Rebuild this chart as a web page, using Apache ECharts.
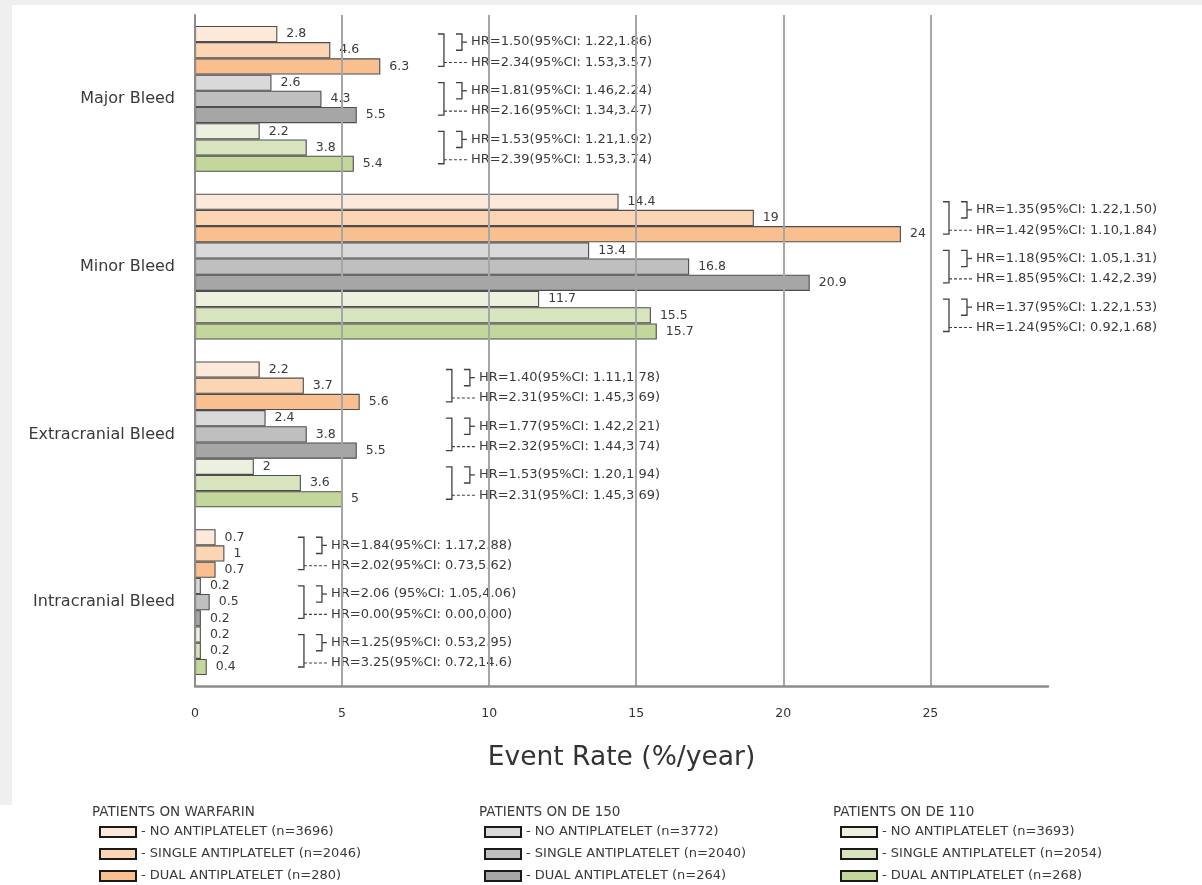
<!DOCTYPE html>
<html>
<head>
<meta charset="utf-8">
<title>Bleeding event rates by antiplatelet use</title>
<script src="https://cdn.jsdelivr.net/npm/echarts@6/dist/echarts.min.js"></script>
<style>
  html, body { margin: 0; padding: 0; background: #ffffff; }
  #chart { width: 1202px; height: 885px; }
</style>
</head>
<body>
<div id="chart"></div>
<script>
// ---- data ----
const categories = ['Major Bleed', 'Minor Bleed', 'Extracranial Bleed', 'Intracranial Bleed'];

// event rates (%/year) per category, in the order of `categories`
const warfarinNone   = [2.8, 14.4, 2.2, 0.7];
const warfarinSingle = [4.6, 19,   3.7, 1];
const warfarinDual   = [6.3, 24,   5.6, 0.7];
const de150None      = [2.6, 13.4, 2.4, 0.2];
const de150Single    = [4.3, 16.8, 3.8, 0.5];
const de150Dual      = [5.5, 20.9, 5.5, 0.2];
const de110None      = [2.2, 11.7, 2,   0.2];
const de110Single    = [3.8, 15.5, 3.6, 0.2];
const de110Dual      = [5.4, 15.7, 5,   0.4];

const legendTitles = ['PATIENTS ON WARFARIN', 'PATIENTS ON DE 150', 'PATIENTS ON DE 110'];
const warfarinNames = ['NO ANTIPLATELET (n=3696)', 'SINGLE ANTIPLATELET (n=2046)', 'DUAL ANTIPLATELET (n=280)'];
const de150Names    = ['NO ANTIPLATELET (n=3772)', 'SINGLE ANTIPLATELET (n=2040)', 'DUAL ANTIPLATELET (n=264)'];
const de110Names    = ['NO ANTIPLATELET (n=3693)', 'SINGLE ANTIPLATELET (n=2054)', 'DUAL ANTIPLATELET (n=268)'];

// hazard ratios: single vs none, dual vs none; per category, groups = warfarin, DE 150, DE 110
const hrSingle = [
  ['HR=1.50(95%CI: 1.22,1.86)', 'HR=1.81(95%CI: 1.46,2.24)', 'HR=1.53(95%CI: 1.21,1.92)'],
  ['HR=1.35(95%CI: 1.22,1.50)', 'HR=1.18(95%CI: 1.05,1.31)', 'HR=1.37(95%CI: 1.22,1.53)'],
  ['HR=1.40(95%CI: 1.11,1.78)', 'HR=1.77(95%CI: 1.42,2.21)', 'HR=1.53(95%CI: 1.20,1.94)'],
  ['HR=1.84(95%CI: 1.17,2.88)', 'HR=2.06 (95%CI: 1.05,4.06)', 'HR=1.25(95%CI: 0.53,2.95)']
];
const hrDual = [
  ['HR=2.34(95%CI: 1.53,3.57)', 'HR=2.16(95%CI: 1.34,3.47)', 'HR=2.39(95%CI: 1.53,3.74)'],
  ['HR=1.42(95%CI: 1.10,1.84)', 'HR=1.85(95%CI: 1.42,2.39)', 'HR=1.24(95%CI: 0.92,1.68)'],
  ['HR=2.31(95%CI: 1.45,3.69)', 'HR=2.32(95%CI: 1.44,3.74)', 'HR=2.31(95%CI: 1.45,3.69)'],
  ['HR=2.02(95%CI: 0.73,5.62)', 'HR=0.00(95%CI: 0.00,0.00)', 'HR=3.25(95%CI: 0.72,14.6)']
];

// ---- layout / style ----
const FONT = '"DejaVu Sans", sans-serif';
const TEXT = '#3a3a3a';
const CAT_GAP = 0.13;        // barCategoryGap as a fraction
const N_BARS = 9;
// x (in axis units) where each category's HR bracket column starts
const hrBracketX = [8.26, 25.43, 8.53, 3.5];

const fills = {
  warfarin: ['#FDE9D9', '#FCD5B4', '#FABF8F'],
  de150:    ['#D9D9D9', '#BFBFBF', '#A6A6A6'],
  de110:    ['#EBF1DE', '#D7E4BD', '#C4D79B']
};

function barSeries(name, data, color) {
  return {
    type: 'bar',
    name: name,
    data: data,
    barGap: '0%',
    barCategoryGap: (CAT_GAP * 100) + '%',
    itemStyle: { color: color, borderColor: '#4d4d4d', borderWidth: 1.1 },
    label: {
      show: true, position: 'right', distance: 9,
      color: TEXT, fontSize: 12.5, fontFamily: FONT
    },
    z: 2
  };
}

const barList = [
  barSeries(warfarinNames[0], warfarinNone,   fills.warfarin[0]),
  barSeries(warfarinNames[1], warfarinSingle, fills.warfarin[1]),
  barSeries(warfarinNames[2], warfarinDual,   fills.warfarin[2]),
  barSeries(de150Names[0], de150None,   fills.de150[0]),
  barSeries(de150Names[1], de150Single, fills.de150[1]),
  barSeries(de150Names[2], de150Dual,   fills.de150[2]),
  barSeries(de110Names[0], de110None,   fills.de110[0]),
  barSeries(de110Names[1], de110Single, fills.de110[1]),
  barSeries(de110Names[2], de110Dual,   fills.de110[2])
];

// one annotation item per (category, treatment group)
const hrItems = [];
categories.forEach(function (c, ci) {
  for (let g = 0; g < 3; g++) hrItems.push([hrBracketX[ci], ci, g]);
});

function renderHR(params, api) {
  const ci = api.value(1);
  const g = api.value(2);
  const p = api.coord([api.value(0), ci]);
  const band = api.size([0, 1])[1];
  const bw = band * (1 - CAT_GAP) / N_BARS;
  const top = p[1] - bw * N_BARS / 2;
  const yc = function (k) { return top + (g * 3 + k + 0.5) * bw; };
  const y1 = yc(0), y2 = yc(1), y3 = yc(2);
  const bx = p[0];
  const ln = { stroke: '#404040', lineWidth: 1.3, fill: null };
  const yL1 = (y1 + y2) / 2;
  const yL2 = y3 - 4;
  return {
    type: 'group',
    children: [
      { type: 'polyline', shape: { points: [[bx, y1], [bx + 6, y1], [bx + 6, y3], [bx, y3]] }, style: ln },
      { type: 'polyline', shape: { points: [[bx + 18, y1], [bx + 24, y1], [bx + 24, y2], [bx + 18, y2]] }, style: ln },
      { type: 'line', shape: { x1: bx + 24, y1: yL1, x2: bx + 29, y2: yL1 }, style: ln },
      { type: 'line', shape: { x1: bx + 6, y1: yL2, x2: bx + 31, y2: yL2 },
        style: { stroke: '#404040', lineWidth: 1.1, lineDash: [3, 2] } },
      { type: 'text', style: { text: hrSingle[ci][g], x: bx + 33, y: yL1, fill: TEXT,
          fontSize: 13, fontFamily: FONT, verticalAlign: 'middle', align: 'left' } },
      { type: 'text', style: { text: hrDual[ci][g], x: bx + 33, y: yL2, fill: TEXT,
          fontSize: 13, fontFamily: FONT, verticalAlign: 'middle', align: 'left' } }
    ]
  };
}

function legendBlock(names, left) {
  return {
    data: names,
    orient: 'vertical',
    left: left,
    top: 824,
    itemWidth: 36,
    itemHeight: 10,
    itemGap: 6,
    padding: 0,
    icon: 'rect',
    selectedMode: false,
    formatter: '- {name}',
    itemStyle: { borderColor: '#1a1a1a', borderWidth: 2 },
    textStyle: { color: TEXT, fontSize: 13, fontFamily: FONT, lineHeight: 16 }
  };
}

function legendTitle(text, left) {
  return {
    text: text, left: left, top: 805, padding: 0,
    textStyle: { color: TEXT, fontSize: 13.5, fontWeight: 'normal', fontFamily: FONT }
  };
}

const chart = echarts.init(document.getElementById('chart'), null, { renderer: 'canvas' });

chart.setOption({
  backgroundColor: '#ffffff',
  animation: false,
  title: [
    legendTitle(legendTitles[0], 92),
    legendTitle(legendTitles[1], 479),
    legendTitle(legendTitles[2], 833)
  ],
  legend: [
    legendBlock(warfarinNames, 99),
    legendBlock(de150Names, 484),
    legendBlock(de110Names, 840)
  ],
  graphic: [
    { type: 'rect', shape: { x: 0, y: 0, width: 1202, height: 5 }, style: { fill: '#efefef' }, silent: true },
    { type: 'rect', shape: { x: 0, y: 0, width: 12, height: 805 }, style: { fill: '#efefef' }, silent: true }
  ],
  grid: { left: 195, right: 154, top: 15, bottom: 199, containLabel: false },
  xAxis: {
    type: 'value',
    min: 0, max: 29, interval: 5,
    z: 5,
    name: 'Event Rate (%/year)',
    nameLocation: 'middle',
    nameGap: 59,
    nameTextStyle: { fontSize: 26.5, color: '#333333', fontFamily: FONT },
    axisLine: { show: true, lineStyle: { color: '#8c8c8c', width: 2.5 } },
    axisTick: { show: false },
    axisLabel: { color: '#333333', fontSize: 12.5, fontFamily: FONT, margin: 21, showMaxLabel: false },
    splitLine: { show: true, showMinLine: false, showMaxLine: false, lineStyle: { color: '#a6a6a6', width: 2 } }
  },
  yAxis: {
    type: 'category',
    data: categories,
    inverse: true,
    z: 5,
    axisLine: { show: true, lineStyle: { color: '#8c8c8c', width: 2 } },
    axisTick: { show: false },
    axisLabel: { color: TEXT, fontSize: 16, fontFamily: FONT, margin: 20 },
    splitLine: { show: false }
  },
  series: barList.concat([{
    type: 'custom',
    name: 'hr',
    data: hrItems,
    encode: { x: 0, y: 1 },
    renderItem: renderHR,
    clip: false,
    silent: true,
    z: 3
  }])
});
</script>
</body>
</html>
